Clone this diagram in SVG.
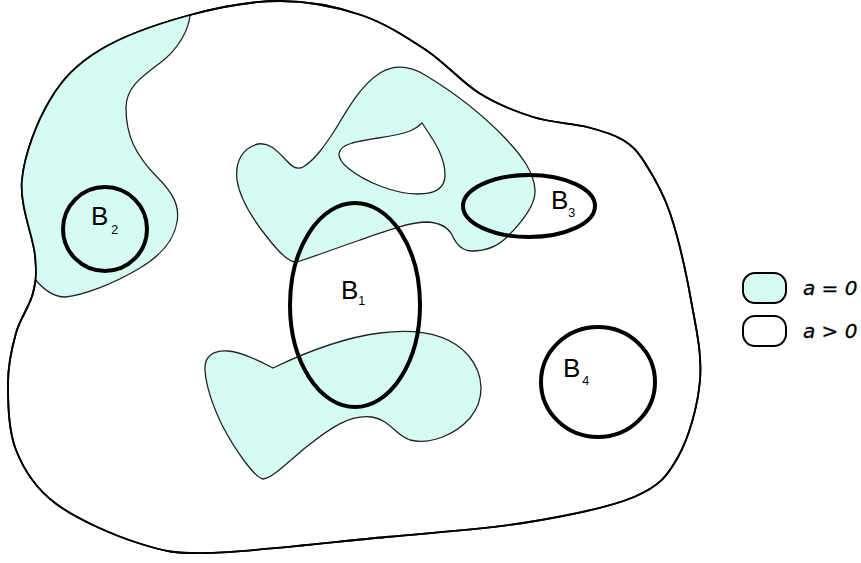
<svg xmlns="http://www.w3.org/2000/svg" width="861" height="563" viewBox="0 0 861 563">
<style>
.outer{fill:#fff;stroke:#000;stroke-width:1.8}
.zero{fill:#d4fcf3;stroke:#222;stroke-width:1.3}
.ball{fill:none;stroke:#000;stroke-width:4}
.lbl{font-family:"Liberation Sans",Arial,sans-serif;font-size:26px;fill:#000}
.sub{font-size:12.5px}
.leg{font-family:"DejaVu Sans",Verdana,sans-serif;font-style:italic;font-size:20px;fill:#000;stroke:#000;stroke-width:0.3}
.legbox{stroke:#000;stroke-width:2}
</style>
<defs>
<path id="outerPath" d="M280,1 C308.5,1 336.7,6.8 361,15 C385.3,23.2 406.3,37 426,50 C445.7,63.3 461.2,81.8 479,93 C496.8,104.2 515,111.3 533,117 C551,122.7 572,123.2 587,127 C602,130.8 613.3,134 623,140 C632.7,146 637.2,150.8 645,163 C652.8,175.2 662.3,190.2 670,213 C677.7,235.8 686,272.2 691,300 C696,327.8 702.2,353.8 700,380 C697.8,406.2 689,437.5 678,457 C667,476.5 659.8,486 634,497 C608.2,508 564.3,516.3 523,523 C481.7,529.7 438.3,532 386,537 C333.7,542 250.3,552 209,553 C175,554 163.7,551.3 138,543 C112.3,534.7 75.3,518.5 55,503 C34.7,487.5 23.8,470 16,450 C8.2,430 8,402.5 8,383 C8,363.5 11.8,348 16,333 C20.2,318 29.8,306 33,293 C36.2,280 36.8,273.8 35,255 C33.2,236.2 19.5,205.8 22,180 C24.5,154 37,121.7 50,100 C63,78.3 76.7,64.2 100,50 C123.3,35.8 160,23.2 190,15 C220,6.8 251.5,1 280,1 Z"/>
<clipPath id="clipOuter"><use href="#outerPath"/></clipPath>
</defs>

<g id="domain">
<use href="#outerPath" class="outer"/>
</g>

<g id="zero-region-1" clip-path="url(#clipOuter)">
<path class="zero" d="M191,-5 L190,15 C189,28 180,48 160,63 C140,78 126,88 126,108 C126,135 135,155 158,178 C172,192 180,205 177,222 C174,240 160,256 140,268 C115,283 85,295 65,297 C52,297 42,288 34,278 L-10,278 L-10,-5 Z"/>
</g>
<g id="domain-border">
<use href="#outerPath" fill="none" stroke="#000" stroke-width="1.8"/>
</g>

<g id="zero-region-2">
<path class="zero" fill-rule="evenodd" d="M237,180 C235,162 242,148 258,144 C270,142 278,152 287,161 C292,167 297,170 303,167 C315,160 325,145 335,130 C348,108 362,84 380,73 C395,64 410,66 425,75 C450,90 480,112 505,138 C522,156 534,172 535,190 C536,205 522,222 507,237 C497,247 485,251 472,251 C462,251 456,244 452,235 C448,227 440,223 428,222 C410,222 388,230 360,240 C340,247 318,255 297,262 C290,263 280,254 267,237 C255,222 240,200 237,180 Z M422,123 C432,138 445,155 445,175 C445,188 435,194 418,194 C395,194 365,182 348,168 C335,157 336,148 352,143 C370,138 395,137 410,131 C415,129 419,126 422,123 Z"/>
</g>

<g id="zero-region-3">
<path class="zero" d="M205,370 C204,355 215,350 228,351 C242,352 258,360 273,368 C300,355 340,338 380,333 C420,328 450,335 468,355 C485,375 485,400 470,418 C455,435 430,445 410,440 C395,435 390,420 372,417 C350,414 330,428 305,448 C285,465 272,478 263,479 C255,478 235,450 222,425 C210,400 206,385 205,370 Z"/>
</g>

<g id="B1">
<ellipse class="ball" cx="355" cy="305" rx="65" ry="102"/>
<text class="lbl" x="341" y="299">B<tspan class="sub" dy="6">1</tspan></text>
</g>
<g id="B2">
<circle class="ball" cx="105" cy="229" r="42"/>
<text class="lbl" x="91" y="225">B<tspan class="sub" dx="3" dy="9">2</tspan></text>
</g>
<g id="B3">
<ellipse class="ball" cx="529" cy="206" rx="66" ry="31"/>
<text class="lbl" x="551" y="209">B<tspan class="sub" dy="8">3</tspan></text>
</g>
<g id="B4">
<ellipse class="ball" cx="598" cy="382" rx="57" ry="55"/>
<text class="lbl" x="563" y="377">B<tspan class="sub" dx="2" dy="8">4</tspan></text>
</g>

<g id="legend">
<g id="legend-zero">
<rect class="legbox" x="743" y="273" width="43" height="30" rx="12" fill="#d4fcf3"/>
<text class="leg" x="803" y="295">a = 0</text>
</g>
<g id="legend-positive">
<rect class="legbox" x="743" y="316" width="43" height="30" rx="12" fill="#fff"/>
<text class="leg" x="803" y="338">a &gt; 0</text>
</g>
</g>
</svg>
